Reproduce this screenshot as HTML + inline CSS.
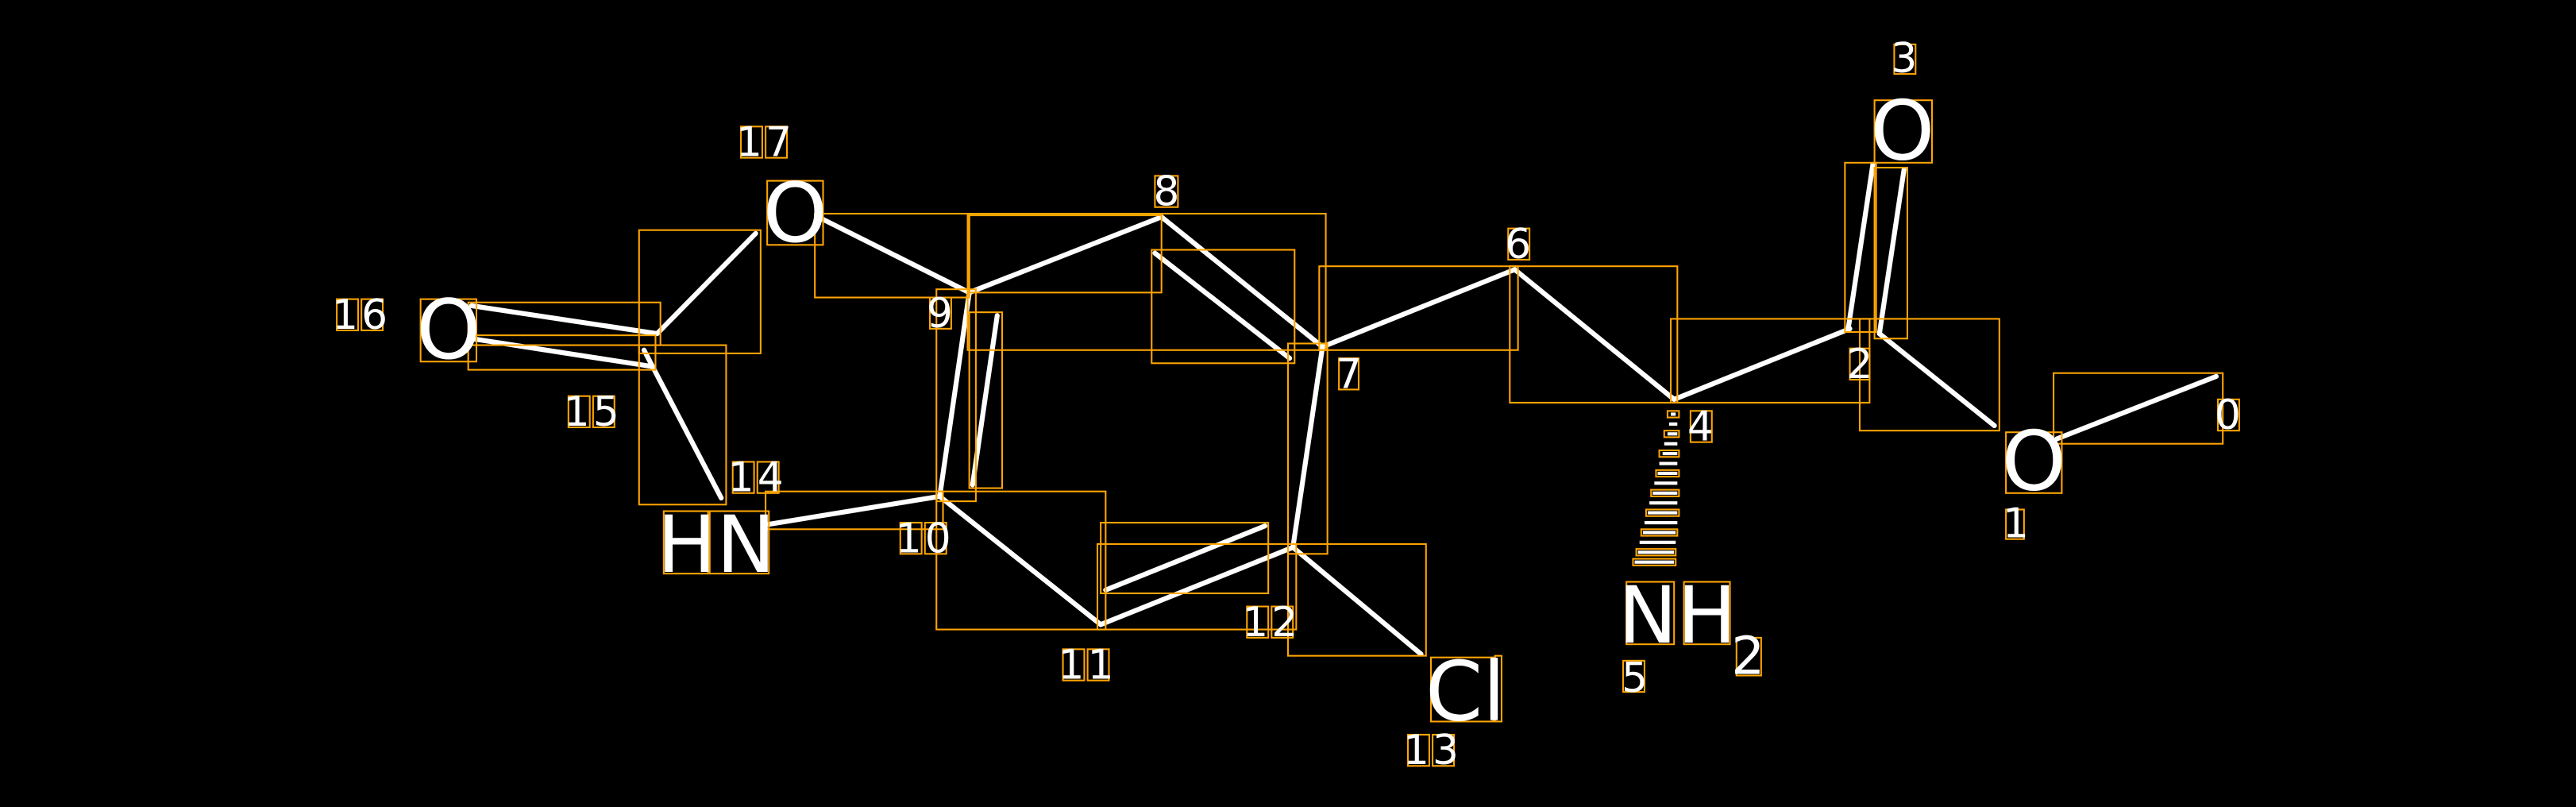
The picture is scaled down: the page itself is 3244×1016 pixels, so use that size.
<!DOCTYPE html>
<html><head><meta charset="utf-8"><style>
html,body{margin:0;padding:0;background:#000;}
svg{display:block;}
text{font-family:"DejaVu Sans","Liberation Sans",sans-serif;fill:#fff;}
.d2{letter-spacing:2px;}
</style></head><body>
<svg width="3244" height="1016" viewBox="0 0 1568 491" preserveAspectRatio="none" xmlns="http://www.w3.org/2000/svg">
<rect width="1568" height="491" fill="#000"/>
<g stroke="#fff" stroke-width="3" stroke-linecap="round">
<line x1="498" y1="132" x2="590" y2="178"/>
<line x1="590" y1="178" x2="707" y2="132"/>
<line x1="707" y1="132" x2="805" y2="211"/>
<line x1="703" y1="154" x2="785" y2="218"/>
<line x1="805" y1="211" x2="922" y2="164"/>
<line x1="922" y1="164" x2="1019" y2="243"/>
<line x1="1019" y1="243" x2="1126" y2="200"/>
<line x1="1144" y1="203" x2="1214" y2="259"/>
<line x1="1252" y1="267" x2="1349" y2="229"/>
<line x1="1125" y1="200" x2="1140" y2="100"/>
<line x1="1144" y1="203" x2="1159" y2="103"/>
<line x1="590" y1="178" x2="572" y2="302"/>
<line x1="607" y1="192" x2="592" y2="295"/>
<line x1="572" y1="302" x2="468" y2="319"/>
<line x1="572" y1="302" x2="670" y2="380"/>
<line x1="670" y1="380" x2="787" y2="333"/>
<line x1="673" y1="359" x2="770" y2="320"/>
<line x1="787" y1="333" x2="805" y2="211"/>
<line x1="787" y1="333" x2="865" y2="398"/>
<line x1="400" y1="203" x2="460" y2="142"/>
<line x1="392" y1="213" x2="439" y2="303"/>
<line x1="287" y1="186" x2="400" y2="203"/>
<line x1="287" y1="206" x2="397" y2="223"/>
</g>
<g stroke="#fff" stroke-width="2">
<line x1="1017" y1="252" x2="1020" y2="252"/>
<line x1="1016" y1="258" x2="1021" y2="258"/>
<line x1="1015" y1="264" x2="1021" y2="264"/>
<line x1="1013" y1="270" x2="1021" y2="270"/>
<line x1="1012" y1="276" x2="1021" y2="276"/>
<line x1="1010" y1="282" x2="1021" y2="282"/>
<line x1="1009" y1="288" x2="1021" y2="288"/>
<line x1="1007" y1="294" x2="1021" y2="294"/>
<line x1="1006" y1="300" x2="1021" y2="300"/>
<line x1="1004" y1="306" x2="1021" y2="306"/>
<line x1="1003" y1="312" x2="1021" y2="312"/>
<line x1="1001" y1="318" x2="1021" y2="318"/>
<line x1="1000" y1="324" x2="1020" y2="324"/>
<line x1="998" y1="330" x2="1020" y2="330"/>
<line x1="997" y1="336" x2="1019" y2="336"/>
<line x1="995" y1="342" x2="1019" y2="342"/>
</g>
<g fill="none" stroke="#ffa500" stroke-width="1">
<rect x="496" y="130" width="94" height="51"/>
<rect x="590" y="131" width="117" height="47"/>
<rect x="589" y="130" width="218" height="83"/>
<rect x="701" y="152" width="87" height="69"/>
<rect x="803" y="162" width="121" height="51"/>
<rect x="919" y="162" width="102" height="83"/>
<rect x="1017" y="194" width="121" height="51"/>
<rect x="1132" y="194" width="85" height="68"/>
<rect x="1250" y="227" width="103" height="43"/>
<rect x="1123" y="99" width="19" height="103"/>
<rect x="1141" y="102" width="20" height="104"/>
<rect x="570" y="176" width="24" height="129"/>
<rect x="590" y="190" width="20" height="107"/>
<rect x="466" y="299" width="108" height="23"/>
<rect x="570" y="299" width="103" height="84"/>
<rect x="668" y="331" width="121" height="52"/>
<rect x="670" y="318" width="102" height="43"/>
<rect x="784" y="209" width="24" height="128"/>
<rect x="784" y="331" width="84" height="68"/>
<rect x="389" y="140" width="74" height="75"/>
<rect x="389" y="210" width="53" height="97"/>
<rect x="285" y="184" width="117" height="26"/>
<rect x="285" y="204" width="114" height="21"/>
<rect x="1015" y="250" width="7" height="4"/>
<rect x="1013" y="262" width="9" height="4"/>
<rect x="1010" y="274" width="12" height="4"/>
<rect x="1008" y="286" width="14" height="4"/>
<rect x="1005" y="298" width="17" height="4"/>
<rect x="1002" y="310" width="20" height="4"/>
<rect x="999" y="322" width="22" height="4"/>
<rect x="996" y="334" width="24" height="4"/>
<rect x="994" y="340" width="26" height="4"/>
<rect x="1141" y="61" width="35" height="38"/>
<rect x="1153" y="27" width="13" height="18"/>
<rect x="1221" y="310" width="11" height="18"/>
<rect x="1221" y="263" width="34" height="37"/>
<rect x="1350" y="243" width="13" height="19"/>
<rect x="1126" y="212" width="12" height="19"/>
<rect x="1029" y="250" width="13" height="19"/>
<rect x="918" y="139" width="13" height="19"/>
<rect x="815" y="218" width="12" height="19"/>
<rect x="703" y="107" width="14" height="19"/>
<rect x="566" y="181" width="13" height="19"/>
<rect x="548" y="318" width="13" height="19"/><rect x="563" y="318" width="13" height="19"/>
<rect x="647" y="395" width="13" height="19"/><rect x="662" y="395" width="13" height="19"/>
<rect x="759" y="369" width="13" height="19"/><rect x="774" y="369" width="13" height="19"/>
<rect x="857" y="447" width="13" height="19"/><rect x="872" y="447" width="13" height="19"/>
<rect x="446" y="281" width="13" height="19"/><rect x="461" y="281" width="13" height="19"/>
<rect x="346" y="241" width="13" height="19"/><rect x="361" y="241" width="13" height="19"/>
<rect x="205" y="182" width="13" height="19"/><rect x="220" y="182" width="13" height="19"/>
<rect x="451" y="77" width="13" height="19"/><rect x="466" y="77" width="13" height="19"/>
<rect x="990" y="354" width="29" height="38"/><rect x="1025" y="354" width="28" height="38"/>
<rect x="1057" y="388" width="15" height="23"/>
<rect x="988" y="402" width="13" height="19"/>
<rect x="871" y="400" width="38" height="39"/><rect x="910" y="399" width="4" height="40"/>
<rect x="404" y="311" width="27" height="38"/><rect x="432" y="311" width="36" height="38"/>
<rect x="256" y="182" width="34" height="38"/>
<rect x="467" y="110" width="34" height="39"/>
</g>
<g font-size="50" text-anchor="middle">
<text x="1158" y="97">O</text>
<text x="1238" y="298">O</text>
<text x="273" y="218">O</text>
<text x="484" y="147">O</text>
</g>
<text x="436" y="348" font-size="48" text-anchor="middle">HN</text>
<text x="1021" y="391" font-size="48" text-anchor="middle">NH</text>
<text x="1064" y="410" font-size="32" text-anchor="middle">2</text>
<text x="892" y="438" font-size="50" text-anchor="middle">Cl</text>
<g font-size="25" text-anchor="middle">
<text x="1159" y="44">3</text>
<text x="1227" y="327">1</text>
<text x="1356" y="261">0</text>
<text x="1132" y="230">2</text>
<text x="1035" y="268">4</text>
<text x="924" y="157">6</text>
<text x="821" y="236">7</text>
<text x="710" y="125">8</text>
<text x="572" y="199">9</text>
<text x="995" y="421">5</text>
<text class="d2" x="563" y="336">10</text>
<text class="d2" x="662" y="413">11</text>
<text class="d2" x="774" y="387">12</text>
<text class="d2" x="872" y="465">13</text>
<text class="d2" x="461" y="299">14</text>
<text class="d2" x="361" y="259">15</text>
<text class="d2" x="220" y="200">16</text>
<text class="d2" x="466" y="95">17</text>
</g>
</svg>
</body></html>
